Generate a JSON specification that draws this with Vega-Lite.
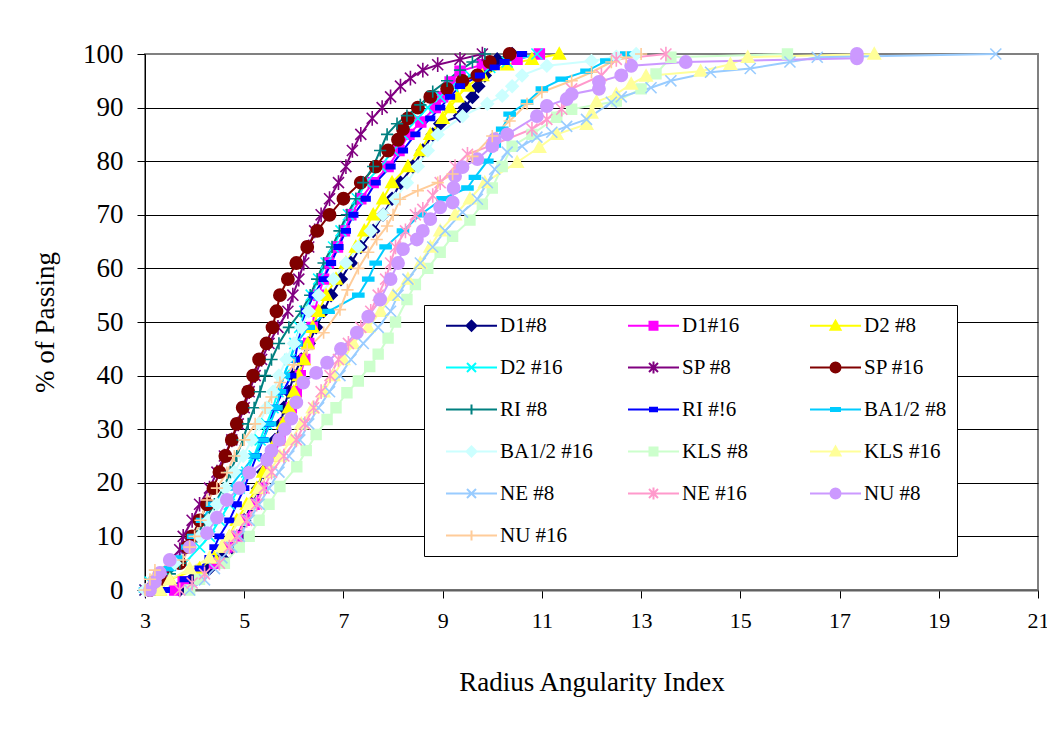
{
"$schema": "https://vega.github.io/schema/vega-lite/v6.json",
"width": 893, "height": 536,
"autosize": "none",
"padding": {"left": 145, "top": 54, "right": 9, "bottom": 152},
"background": "white",
"config": {"view": {"stroke": "#808080", "strokeWidth": 2}, "font": "Liberation Serif"},
"datasets": {"d": [
{"s":"D1#8","x":3.7,"y":0},{"s":"D1#8","x":3.95,"y":2},{"s":"D1#8","x":4.3,"y":4},{"s":"D1#8","x":4.55,"y":6},{"s":"D1#8","x":4.75,"y":8},{"s":"D1#8","x":4.9,"y":10},{"s":"D1#8","x":5.0,"y":13},{"s":"D1#8","x":5.15,"y":16},{"s":"D1#8","x":5.28,"y":19},{"s":"D1#8","x":5.38,"y":22},{"s":"D1#8","x":5.5,"y":25},{"s":"D1#8","x":5.62,"y":28},{"s":"D1#8","x":5.74,"y":31},{"s":"D1#8","x":5.8,"y":34},{"s":"D1#8","x":5.9,"y":37},{"s":"D1#8","x":6.0,"y":40},{"s":"D1#8","x":6.15,"y":43},{"s":"D1#8","x":6.3,"y":46},{"s":"D1#8","x":6.45,"y":49},{"s":"D1#8","x":6.6,"y":52},{"s":"D1#8","x":6.75,"y":55},{"s":"D1#8","x":6.95,"y":58},{"s":"D1#8","x":7.15,"y":61},{"s":"D1#8","x":7.35,"y":64},{"s":"D1#8","x":7.6,"y":67},{"s":"D1#8","x":7.8,"y":70},{"s":"D1#8","x":7.98,"y":73},{"s":"D1#8","x":8.15,"y":76},{"s":"D1#8","x":8.4,"y":79},{"s":"D1#8","x":8.6,"y":82},{"s":"D1#8","x":8.8,"y":85},{"s":"D1#8","x":8.95,"y":87},{"s":"D1#8","x":9.35,"y":88.5},{"s":"D1#8","x":9.45,"y":90},{"s":"D1#8","x":9.6,"y":92},{"s":"D1#8","x":9.72,"y":94},{"s":"D1#8","x":9.85,"y":96},{"s":"D1#8","x":9.98,"y":98},{"s":"D1#8","x":10.1,"y":99},{"s":"D1#8","x":10.4,"y":100},
{"s":"D1#16","x":3.6,"y":0},{"s":"D1#16","x":3.77,"y":1.5},{"s":"D1#16","x":4.1,"y":3},{"s":"D1#16","x":4.4,"y":5},{"s":"D1#16","x":4.65,"y":8},{"s":"D1#16","x":4.85,"y":10},{"s":"D1#16","x":5.0,"y":13},{"s":"D1#16","x":5.2,"y":16},{"s":"D1#16","x":5.35,"y":19},{"s":"D1#16","x":5.45,"y":22},{"s":"D1#16","x":5.6,"y":25},{"s":"D1#16","x":5.72,"y":28},{"s":"D1#16","x":5.82,"y":31},{"s":"D1#16","x":5.95,"y":34},{"s":"D1#16","x":6.05,"y":37},{"s":"D1#16","x":6.13,"y":40},{"s":"D1#16","x":6.22,"y":43},{"s":"D1#16","x":6.3,"y":46},{"s":"D1#16","x":6.37,"y":49},{"s":"D1#16","x":6.42,"y":52},{"s":"D1#16","x":6.5,"y":55},{"s":"D1#16","x":6.6,"y":58},{"s":"D1#16","x":6.7,"y":61},{"s":"D1#16","x":6.88,"y":64},{"s":"D1#16","x":7.02,"y":67},{"s":"D1#16","x":7.15,"y":70},{"s":"D1#16","x":7.35,"y":73},{"s":"D1#16","x":7.6,"y":76},{"s":"D1#16","x":7.9,"y":79},{"s":"D1#16","x":8.12,"y":82},{"s":"D1#16","x":8.32,"y":85},{"s":"D1#16","x":8.56,"y":87.3},{"s":"D1#16","x":8.85,"y":90},{"s":"D1#16","x":9.0,"y":92},{"s":"D1#16","x":9.15,"y":94.8},{"s":"D1#16","x":9.35,"y":96.8},{"s":"D1#16","x":9.8,"y":98},{"s":"D1#16","x":10.5,"y":99},{"s":"D1#16","x":10.95,"y":100},
{"s":"D2 #8","x":3.3,"y":0},{"s":"D2 #8","x":3.5,"y":2},{"s":"D2 #8","x":4.1,"y":4},{"s":"D2 #8","x":4.4,"y":6},{"s":"D2 #8","x":4.55,"y":8},{"s":"D2 #8","x":4.7,"y":10},{"s":"D2 #8","x":4.85,"y":13},{"s":"D2 #8","x":5.05,"y":16},{"s":"D2 #8","x":5.25,"y":19},{"s":"D2 #8","x":5.38,"y":22},{"s":"D2 #8","x":5.52,"y":25},{"s":"D2 #8","x":5.65,"y":28},{"s":"D2 #8","x":5.78,"y":31},{"s":"D2 #8","x":5.9,"y":34},{"s":"D2 #8","x":6.0,"y":37},{"s":"D2 #8","x":6.1,"y":40},{"s":"D2 #8","x":6.2,"y":43},{"s":"D2 #8","x":6.28,"y":46},{"s":"D2 #8","x":6.38,"y":49},{"s":"D2 #8","x":6.5,"y":52},{"s":"D2 #8","x":6.65,"y":55},{"s":"D2 #8","x":6.85,"y":58},{"s":"D2 #8","x":7.05,"y":61},{"s":"D2 #8","x":7.25,"y":64},{"s":"D2 #8","x":7.42,"y":67},{"s":"D2 #8","x":7.6,"y":70},{"s":"D2 #8","x":7.8,"y":73},{"s":"D2 #8","x":7.98,"y":76},{"s":"D2 #8","x":8.3,"y":79},{"s":"D2 #8","x":8.55,"y":82},{"s":"D2 #8","x":8.75,"y":85},{"s":"D2 #8","x":9.0,"y":88},{"s":"D2 #8","x":9.15,"y":90},{"s":"D2 #8","x":9.3,"y":92},{"s":"D2 #8","x":9.5,"y":94},{"s":"D2 #8","x":9.8,"y":96},{"s":"D2 #8","x":10.3,"y":98},{"s":"D2 #8","x":10.8,"y":99},{"s":"D2 #8","x":11.35,"y":100},
{"s":"D2 #16","x":3.0,"y":0},{"s":"D2 #16","x":3.1,"y":1.5},{"s":"D2 #16","x":3.3,"y":3},{"s":"D2 #16","x":3.8,"y":5},{"s":"D2 #16","x":4.1,"y":8},{"s":"D2 #16","x":4.3,"y":10},{"s":"D2 #16","x":4.5,"y":13},{"s":"D2 #16","x":4.7,"y":16},{"s":"D2 #16","x":4.9,"y":19},{"s":"D2 #16","x":5.05,"y":22},{"s":"D2 #16","x":5.2,"y":25},{"s":"D2 #16","x":5.32,"y":28},{"s":"D2 #16","x":5.45,"y":31},{"s":"D2 #16","x":5.58,"y":34},{"s":"D2 #16","x":5.68,"y":37},{"s":"D2 #16","x":5.8,"y":40},{"s":"D2 #16","x":5.92,"y":43},{"s":"D2 #16","x":6.02,"y":46},{"s":"D2 #16","x":6.12,"y":49},{"s":"D2 #16","x":6.22,"y":52},{"s":"D2 #16","x":6.35,"y":55},{"s":"D2 #16","x":6.5,"y":58},{"s":"D2 #16","x":6.65,"y":61},{"s":"D2 #16","x":6.8,"y":64},{"s":"D2 #16","x":6.95,"y":67},{"s":"D2 #16","x":7.1,"y":70},{"s":"D2 #16","x":7.28,"y":73},{"s":"D2 #16","x":7.45,"y":76},{"s":"D2 #16","x":7.75,"y":79},{"s":"D2 #16","x":8.0,"y":82},{"s":"D2 #16","x":8.2,"y":85},{"s":"D2 #16","x":8.5,"y":88},{"s":"D2 #16","x":8.7,"y":90},{"s":"D2 #16","x":8.95,"y":92},{"s":"D2 #16","x":9.2,"y":94},{"s":"D2 #16","x":9.55,"y":96},{"s":"D2 #16","x":9.95,"y":97.5},{"s":"D2 #16","x":10.3,"y":98.5},{"s":"D2 #16","x":10.9,"y":100},
{"s":"SP #8","x":3.0,"y":0},{"s":"SP #8","x":3.2,"y":1.5},{"s":"SP #8","x":3.4,"y":3},{"s":"SP #8","x":3.5,"y":5},{"s":"SP #8","x":3.7,"y":7.5},{"s":"SP #8","x":3.77,"y":10},{"s":"SP #8","x":3.95,"y":13},{"s":"SP #8","x":4.1,"y":16},{"s":"SP #8","x":4.3,"y":19},{"s":"SP #8","x":4.45,"y":22},{"s":"SP #8","x":4.6,"y":25},{"s":"SP #8","x":4.75,"y":28},{"s":"SP #8","x":4.88,"y":31},{"s":"SP #8","x":5.0,"y":34},{"s":"SP #8","x":5.1,"y":37},{"s":"SP #8","x":5.22,"y":40},{"s":"SP #8","x":5.35,"y":43},{"s":"SP #8","x":5.5,"y":46},{"s":"SP #8","x":5.68,"y":49},{"s":"SP #8","x":5.88,"y":52},{"s":"SP #8","x":5.98,"y":55},{"s":"SP #8","x":6.1,"y":58},{"s":"SP #8","x":6.2,"y":61},{"s":"SP #8","x":6.3,"y":64},{"s":"SP #8","x":6.42,"y":67},{"s":"SP #8","x":6.55,"y":70},{"s":"SP #8","x":6.72,"y":73},{"s":"SP #8","x":6.9,"y":76},{"s":"SP #8","x":7.05,"y":79},{"s":"SP #8","x":7.18,"y":82},{"s":"SP #8","x":7.35,"y":85},{"s":"SP #8","x":7.58,"y":88},{"s":"SP #8","x":7.78,"y":90},{"s":"SP #8","x":7.95,"y":92},{"s":"SP #8","x":8.15,"y":94},{"s":"SP #8","x":8.35,"y":95.5},{"s":"SP #8","x":8.6,"y":97},{"s":"SP #8","x":8.9,"y":98},{"s":"SP #8","x":9.35,"y":99},{"s":"SP #8","x":9.8,"y":100},
{"s":"SP #16","x":3.1,"y":0},{"s":"SP #16","x":3.3,"y":2},{"s":"SP #16","x":3.7,"y":5},{"s":"SP #16","x":3.85,"y":8},{"s":"SP #16","x":3.95,"y":10},{"s":"SP #16","x":4.1,"y":13},{"s":"SP #16","x":4.25,"y":16},{"s":"SP #16","x":4.38,"y":19},{"s":"SP #16","x":4.5,"y":22},{"s":"SP #16","x":4.62,"y":25},{"s":"SP #16","x":4.75,"y":28},{"s":"SP #16","x":4.85,"y":31},{"s":"SP #16","x":4.97,"y":34},{"s":"SP #16","x":5.08,"y":37},{"s":"SP #16","x":5.18,"y":40},{"s":"SP #16","x":5.3,"y":43},{"s":"SP #16","x":5.45,"y":46},{"s":"SP #16","x":5.57,"y":49},{"s":"SP #16","x":5.65,"y":52},{"s":"SP #16","x":5.72,"y":55},{"s":"SP #16","x":5.88,"y":58},{"s":"SP #16","x":6.05,"y":61},{"s":"SP #16","x":6.27,"y":64},{"s":"SP #16","x":6.47,"y":67},{"s":"SP #16","x":6.72,"y":70},{"s":"SP #16","x":7.0,"y":73},{"s":"SP #16","x":7.35,"y":76},{"s":"SP #16","x":7.65,"y":79},{"s":"SP #16","x":7.9,"y":82},{"s":"SP #16","x":8.1,"y":84},{"s":"SP #16","x":8.2,"y":86},{"s":"SP #16","x":8.3,"y":88},{"s":"SP #16","x":8.5,"y":90},{"s":"SP #16","x":8.75,"y":92},{"s":"SP #16","x":9.09,"y":93.5},{"s":"SP #16","x":9.4,"y":95},{"s":"SP #16","x":9.7,"y":96},{"s":"SP #16","x":9.95,"y":98.5},{"s":"SP #16","x":10.35,"y":100},
{"s":"RI #8","x":3.2,"y":0},{"s":"RI #8","x":3.5,"y":3},{"s":"RI #8","x":3.7,"y":5},{"s":"RI #8","x":3.9,"y":8},{"s":"RI #8","x":4.05,"y":10},{"s":"RI #8","x":4.2,"y":13},{"s":"RI #8","x":4.4,"y":16},{"s":"RI #8","x":4.58,"y":19},{"s":"RI #8","x":4.72,"y":22},{"s":"RI #8","x":4.85,"y":25},{"s":"RI #8","x":4.97,"y":28},{"s":"RI #8","x":5.08,"y":31},{"s":"RI #8","x":5.2,"y":34},{"s":"RI #8","x":5.32,"y":37},{"s":"RI #8","x":5.42,"y":40},{"s":"RI #8","x":5.55,"y":43},{"s":"RI #8","x":5.7,"y":46},{"s":"RI #8","x":5.9,"y":49},{"s":"RI #8","x":6.15,"y":52},{"s":"RI #8","x":6.33,"y":55},{"s":"RI #8","x":6.47,"y":58},{"s":"RI #8","x":6.6,"y":61},{"s":"RI #8","x":6.77,"y":64},{"s":"RI #8","x":6.92,"y":67},{"s":"RI #8","x":7.07,"y":70},{"s":"RI #8","x":7.25,"y":73},{"s":"RI #8","x":7.4,"y":76},{"s":"RI #8","x":7.6,"y":79},{"s":"RI #8","x":7.74,"y":82},{"s":"RI #8","x":7.88,"y":85},{"s":"RI #8","x":8.08,"y":87},{"s":"RI #8","x":8.28,"y":88.5},{"s":"RI #8","x":8.55,"y":90.5},{"s":"RI #8","x":8.8,"y":93},{"s":"RI #8","x":9.09,"y":95},{"s":"RI #8","x":9.35,"y":97},{"s":"RI #8","x":9.6,"y":98.5},{"s":"RI #8","x":9.85,"y":100},
{"s":"RI #!6","x":3.4,"y":0},{"s":"RI #!6","x":3.8,"y":2},{"s":"RI #!6","x":4.1,"y":4},{"s":"RI #!6","x":4.3,"y":6},{"s":"RI #!6","x":4.4,"y":8},{"s":"RI #!6","x":4.5,"y":10},{"s":"RI #!6","x":4.7,"y":13},{"s":"RI #!6","x":4.85,"y":16},{"s":"RI #!6","x":5.0,"y":19},{"s":"RI #!6","x":5.12,"y":22},{"s":"RI #!6","x":5.25,"y":25},{"s":"RI #!6","x":5.38,"y":28},{"s":"RI #!6","x":5.5,"y":31},{"s":"RI #!6","x":5.62,"y":34},{"s":"RI #!6","x":5.78,"y":37},{"s":"RI #!6","x":5.95,"y":40},{"s":"RI #!6","x":6.02,"y":43},{"s":"RI #!6","x":6.08,"y":46},{"s":"RI #!6","x":6.15,"y":49},{"s":"RI #!6","x":6.25,"y":52},{"s":"RI #!6","x":6.4,"y":55},{"s":"RI #!6","x":6.6,"y":58},{"s":"RI #!6","x":6.75,"y":61},{"s":"RI #!6","x":6.9,"y":64},{"s":"RI #!6","x":7.05,"y":67},{"s":"RI #!6","x":7.2,"y":70},{"s":"RI #!6","x":7.45,"y":73},{"s":"RI #!6","x":7.65,"y":76},{"s":"RI #!6","x":7.95,"y":79},{"s":"RI #!6","x":8.2,"y":82},{"s":"RI #!6","x":8.45,"y":85},{"s":"RI #!6","x":8.75,"y":88},{"s":"RI #!6","x":8.95,"y":90},{"s":"RI #!6","x":9.15,"y":92},{"s":"RI #!6","x":9.35,"y":94},{"s":"RI #!6","x":9.75,"y":96},{"s":"RI #!6","x":10.05,"y":97.5},{"s":"RI #!6","x":10.25,"y":98.5},{"s":"RI #!6","x":10.6,"y":100},
{"s":"BA1/2 #8","x":3.0,"y":0},{"s":"BA1/2 #8","x":3.2,"y":2},{"s":"BA1/2 #8","x":3.5,"y":4},{"s":"BA1/2 #8","x":3.65,"y":6},{"s":"BA1/2 #8","x":3.85,"y":8},{"s":"BA1/2 #8","x":3.97,"y":10},{"s":"BA1/2 #8","x":4.15,"y":13},{"s":"BA1/2 #8","x":4.35,"y":16},{"s":"BA1/2 #8","x":4.7,"y":19},{"s":"BA1/2 #8","x":4.95,"y":22},{"s":"BA1/2 #8","x":5.2,"y":25},{"s":"BA1/2 #8","x":5.38,"y":28},{"s":"BA1/2 #8","x":5.52,"y":31},{"s":"BA1/2 #8","x":5.65,"y":34},{"s":"BA1/2 #8","x":5.72,"y":37},{"s":"BA1/2 #8","x":5.8,"y":40},{"s":"BA1/2 #8","x":5.92,"y":43},{"s":"BA1/2 #8","x":6.05,"y":46},{"s":"BA1/2 #8","x":6.3,"y":49},{"s":"BA1/2 #8","x":6.7,"y":52},{"s":"BA1/2 #8","x":7.3,"y":55},{"s":"BA1/2 #8","x":7.5,"y":58},{"s":"BA1/2 #8","x":7.65,"y":61},{"s":"BA1/2 #8","x":7.85,"y":64},{"s":"BA1/2 #8","x":8.2,"y":67},{"s":"BA1/2 #8","x":8.55,"y":70},{"s":"BA1/2 #8","x":9.0,"y":73},{"s":"BA1/2 #8","x":9.5,"y":75},{"s":"BA1/2 #8","x":9.65,"y":77},{"s":"BA1/2 #8","x":9.9,"y":80},{"s":"BA1/2 #8","x":10.05,"y":83},{"s":"BA1/2 #8","x":10.2,"y":86},{"s":"BA1/2 #8","x":10.35,"y":88.8},{"s":"BA1/2 #8","x":10.7,"y":91},{"s":"BA1/2 #8","x":11.0,"y":93.5},{"s":"BA1/2 #8","x":11.4,"y":95.3},{"s":"BA1/2 #8","x":11.9,"y":96.8},{"s":"BA1/2 #8","x":12.3,"y":98.7},{"s":"BA1/2 #8","x":12.7,"y":100},
{"s":"BA1/2 #16","x":3.0,"y":0},{"s":"BA1/2 #16","x":3.3,"y":3},{"s":"BA1/2 #16","x":3.6,"y":5},{"s":"BA1/2 #16","x":3.9,"y":8},{"s":"BA1/2 #16","x":4.1,"y":10},{"s":"BA1/2 #16","x":4.28,"y":13},{"s":"BA1/2 #16","x":4.45,"y":16},{"s":"BA1/2 #16","x":4.62,"y":19},{"s":"BA1/2 #16","x":4.8,"y":22},{"s":"BA1/2 #16","x":4.98,"y":25},{"s":"BA1/2 #16","x":5.15,"y":28},{"s":"BA1/2 #16","x":5.3,"y":31},{"s":"BA1/2 #16","x":5.45,"y":34},{"s":"BA1/2 #16","x":5.58,"y":37},{"s":"BA1/2 #16","x":5.7,"y":40},{"s":"BA1/2 #16","x":5.85,"y":43},{"s":"BA1/2 #16","x":6.0,"y":46},{"s":"BA1/2 #16","x":6.15,"y":49},{"s":"BA1/2 #16","x":6.3,"y":52},{"s":"BA1/2 #16","x":6.5,"y":55},{"s":"BA1/2 #16","x":6.8,"y":58},{"s":"BA1/2 #16","x":7.05,"y":61},{"s":"BA1/2 #16","x":7.3,"y":64},{"s":"BA1/2 #16","x":7.55,"y":67},{"s":"BA1/2 #16","x":7.8,"y":70},{"s":"BA1/2 #16","x":8.05,"y":73},{"s":"BA1/2 #16","x":8.28,"y":76},{"s":"BA1/2 #16","x":8.5,"y":79},{"s":"BA1/2 #16","x":8.7,"y":82},{"s":"BA1/2 #16","x":8.9,"y":85},{"s":"BA1/2 #16","x":9.4,"y":88.4},{"s":"BA1/2 #16","x":9.9,"y":90.7},{"s":"BA1/2 #16","x":10.2,"y":92.2},{"s":"BA1/2 #16","x":10.4,"y":94},{"s":"BA1/2 #16","x":10.6,"y":96},{"s":"BA1/2 #16","x":11.1,"y":97.8},{"s":"BA1/2 #16","x":12.0,"y":98.7},{"s":"BA1/2 #16","x":12.5,"y":99.5},{"s":"BA1/2 #16","x":12.9,"y":100},
{"s":"KLS #8","x":3.9,"y":0},{"s":"KLS #8","x":4.1,"y":2},{"s":"KLS #8","x":4.6,"y":5},{"s":"KLS #8","x":4.9,"y":8},{"s":"KLS #8","x":5.1,"y":10},{"s":"KLS #8","x":5.3,"y":13},{"s":"KLS #8","x":5.5,"y":16},{"s":"KLS #8","x":5.72,"y":19.3},{"s":"KLS #8","x":6.06,"y":23},{"s":"KLS #8","x":6.25,"y":26},{"s":"KLS #8","x":6.45,"y":29},{"s":"KLS #8","x":6.67,"y":31.8},{"s":"KLS #8","x":6.85,"y":34},{"s":"KLS #8","x":7.07,"y":36.8},{"s":"KLS #8","x":7.3,"y":39},{"s":"KLS #8","x":7.53,"y":41.7},{"s":"KLS #8","x":7.7,"y":44},{"s":"KLS #8","x":7.9,"y":47},{"s":"KLS #8","x":8.05,"y":50},{"s":"KLS #8","x":8.28,"y":54.2},{"s":"KLS #8","x":8.45,"y":57},{"s":"KLS #8","x":8.7,"y":60},{"s":"KLS #8","x":8.95,"y":63},{"s":"KLS #8","x":9.2,"y":66},{"s":"KLS #8","x":9.55,"y":69},{"s":"KLS #8","x":9.8,"y":72},{"s":"KLS #8","x":10.0,"y":75},{"s":"KLS #8","x":10.2,"y":79},{"s":"KLS #8","x":10.4,"y":82.8},{"s":"KLS #8","x":10.8,"y":85},{"s":"KLS #8","x":11.3,"y":88.2},{"s":"KLS #8","x":11.6,"y":89.7},{"s":"KLS #8","x":12.5,"y":91.2},{"s":"KLS #8","x":13.0,"y":93.5},{"s":"KLS #8","x":13.3,"y":96.3},{"s":"KLS #8","x":13.6,"y":99.4},{"s":"KLS #8","x":15.95,"y":100},
{"s":"KLS #16","x":3.3,"y":0},{"s":"KLS #16","x":3.5,"y":1.9},{"s":"KLS #16","x":3.9,"y":4},{"s":"KLS #16","x":4.3,"y":6},{"s":"KLS #16","x":4.55,"y":8},{"s":"KLS #16","x":4.7,"y":10},{"s":"KLS #16","x":4.9,"y":13},{"s":"KLS #16","x":5.1,"y":16},{"s":"KLS #16","x":5.3,"y":19},{"s":"KLS #16","x":5.5,"y":22},{"s":"KLS #16","x":5.72,"y":25},{"s":"KLS #16","x":5.95,"y":28},{"s":"KLS #16","x":6.15,"y":31},{"s":"KLS #16","x":6.38,"y":34},{"s":"KLS #16","x":6.6,"y":37},{"s":"KLS #16","x":6.8,"y":40},{"s":"KLS #16","x":7.0,"y":43},{"s":"KLS #16","x":7.2,"y":46},{"s":"KLS #16","x":7.5,"y":49},{"s":"KLS #16","x":7.75,"y":52},{"s":"KLS #16","x":8.0,"y":55},{"s":"KLS #16","x":8.3,"y":58},{"s":"KLS #16","x":8.55,"y":61},{"s":"KLS #16","x":8.75,"y":64},{"s":"KLS #16","x":8.95,"y":67},{"s":"KLS #16","x":9.25,"y":70},{"s":"KLS #16","x":9.55,"y":73},{"s":"KLS #16","x":9.85,"y":76},{"s":"KLS #16","x":10.5,"y":79.8},{"s":"KLS #16","x":10.95,"y":82.6},{"s":"KLS #16","x":11.3,"y":85},{"s":"KLS #16","x":11.9,"y":86.9},{"s":"KLS #16","x":12.0,"y":89},{"s":"KLS #16","x":12.1,"y":91.1},{"s":"KLS #16","x":12.5,"y":92.5},{"s":"KLS #16","x":12.8,"y":94.4},{"s":"KLS #16","x":13.1,"y":95.9},{"s":"KLS #16","x":14.2,"y":96.8},{"s":"KLS #16","x":14.8,"y":98.1},{"s":"KLS #16","x":15.15,"y":99.4},{"s":"KLS #16","x":17.7,"y":100},
{"s":"NE #8","x":3.9,"y":0},{"s":"NE #8","x":4.2,"y":1.9},{"s":"NE #8","x":4.4,"y":4},{"s":"NE #8","x":4.55,"y":6},{"s":"NE #8","x":4.75,"y":8},{"s":"NE #8","x":4.9,"y":10},{"s":"NE #8","x":5.1,"y":13},{"s":"NE #8","x":5.3,"y":16},{"s":"NE #8","x":5.5,"y":19},{"s":"NE #8","x":5.7,"y":22},{"s":"NE #8","x":5.9,"y":25},{"s":"NE #8","x":6.12,"y":28},{"s":"NE #8","x":6.3,"y":31},{"s":"NE #8","x":6.5,"y":34},{"s":"NE #8","x":6.72,"y":37},{"s":"NE #8","x":6.93,"y":40},{"s":"NE #8","x":7.15,"y":43},{"s":"NE #8","x":7.4,"y":46},{"s":"NE #8","x":7.7,"y":49},{"s":"NE #8","x":7.95,"y":52},{"s":"NE #8","x":8.1,"y":55},{"s":"NE #8","x":8.3,"y":58},{"s":"NE #8","x":8.55,"y":61},{"s":"NE #8","x":8.8,"y":64},{"s":"NE #8","x":9.05,"y":67},{"s":"NE #8","x":9.4,"y":70.5},{"s":"NE #8","x":9.7,"y":72.9},{"s":"NE #8","x":9.9,"y":76},{"s":"NE #8","x":10.05,"y":78.5},{"s":"NE #8","x":10.3,"y":81.7},{"s":"NE #8","x":10.6,"y":82.8},{"s":"NE #8","x":10.9,"y":84.5},{"s":"NE #8","x":11.2,"y":85.4},{"s":"NE #8","x":11.5,"y":86.5},{"s":"NE #8","x":11.9,"y":87.8},{"s":"NE #8","x":12.4,"y":91},{"s":"NE #8","x":12.6,"y":92},{"s":"NE #8","x":13.2,"y":93.7},{"s":"NE #8","x":13.6,"y":95},{"s":"NE #8","x":14.4,"y":96.6},{"s":"NE #8","x":15.2,"y":97.3},{"s":"NE #8","x":16.0,"y":98.5},{"s":"NE #8","x":16.55,"y":99.4},{"s":"NE #8","x":20.15,"y":100},
{"s":"NE #16","x":3.7,"y":0},{"s":"NE #16","x":3.95,"y":1.3},{"s":"NE #16","x":4.2,"y":3},{"s":"NE #16","x":4.5,"y":5},{"s":"NE #16","x":4.7,"y":8},{"s":"NE #16","x":4.85,"y":10},{"s":"NE #16","x":5.05,"y":13},{"s":"NE #16","x":5.25,"y":16},{"s":"NE #16","x":5.4,"y":19},{"s":"NE #16","x":5.55,"y":22},{"s":"NE #16","x":5.8,"y":25},{"s":"NE #16","x":6.05,"y":28},{"s":"NE #16","x":6.22,"y":31},{"s":"NE #16","x":6.4,"y":34},{"s":"NE #16","x":6.55,"y":37},{"s":"NE #16","x":6.73,"y":40},{"s":"NE #16","x":6.9,"y":43},{"s":"NE #16","x":7.1,"y":46},{"s":"NE #16","x":7.35,"y":49},{"s":"NE #16","x":7.55,"y":52},{"s":"NE #16","x":7.7,"y":55},{"s":"NE #16","x":7.85,"y":58},{"s":"NE #16","x":7.95,"y":61},{"s":"NE #16","x":8.05,"y":64},{"s":"NE #16","x":8.25,"y":67},{"s":"NE #16","x":8.45,"y":70},{"s":"NE #16","x":8.6,"y":71},{"s":"NE #16","x":8.8,"y":73.6},{"s":"NE #16","x":8.95,"y":76},{"s":"NE #16","x":9.25,"y":79},{"s":"NE #16","x":9.5,"y":81.3},{"s":"NE #16","x":10.0,"y":83},{"s":"NE #16","x":10.8,"y":86},{"s":"NE #16","x":11.1,"y":87.8},{"s":"NE #16","x":11.4,"y":89.7},{"s":"NE #16","x":11.6,"y":93.5},{"s":"NE #16","x":12.2,"y":96},{"s":"NE #16","x":12.5,"y":99},{"s":"NE #16","x":13.5,"y":100},
{"s":"NU #8","x":3.1,"y":0},{"s":"NU #8","x":3.2,"y":1.5},{"s":"NU #8","x":3.3,"y":3.2},{"s":"NU #8","x":3.5,"y":5.6},{"s":"NU #8","x":3.9,"y":8},{"s":"NU #8","x":4.25,"y":10.6},{"s":"NU #8","x":4.45,"y":13.5},{"s":"NU #8","x":4.65,"y":16.8},{"s":"NU #8","x":4.9,"y":19},{"s":"NU #8","x":5.1,"y":21.9},{"s":"NU #8","x":5.46,"y":24.3},{"s":"NU #8","x":5.55,"y":26},{"s":"NU #8","x":5.7,"y":28},{"s":"NU #8","x":5.82,"y":30},{"s":"NU #8","x":5.95,"y":32},{"s":"NU #8","x":6.05,"y":35},{"s":"NU #8","x":6.19,"y":38.7},{"s":"NU #8","x":6.45,"y":40.5},{"s":"NU #8","x":6.67,"y":42.4},{"s":"NU #8","x":6.95,"y":45},{"s":"NU #8","x":7.27,"y":48},{"s":"NU #8","x":7.5,"y":51},{"s":"NU #8","x":7.74,"y":54.2},{"s":"NU #8","x":7.95,"y":58},{"s":"NU #8","x":8.1,"y":61},{"s":"NU #8","x":8.2,"y":63.6},{"s":"NU #8","x":8.48,"y":65.4},{"s":"NU #8","x":8.6,"y":67},{"s":"NU #8","x":8.75,"y":69.2},{"s":"NU #8","x":8.95,"y":71.4},{"s":"NU #8","x":9.2,"y":72.3},{"s":"NU #8","x":9.22,"y":75},{"s":"NU #8","x":9.25,"y":77.2},{"s":"NU #8","x":9.4,"y":78.9},{"s":"NU #8","x":9.7,"y":80.4},{"s":"NU #8","x":10.0,"y":82.8},{"s":"NU #8","x":10.05,"y":84.1},{"s":"NU #8","x":10.3,"y":85},{"s":"NU #8","x":10.9,"y":88.4},{"s":"NU #8","x":11.1,"y":90.3},{"s":"NU #8","x":11.5,"y":91.6},{"s":"NU #8","x":11.6,"y":92.5},{"s":"NU #8","x":12.15,"y":93.5},{"s":"NU #8","x":12.15,"y":94.8},{"s":"NU #8","x":12.6,"y":96},{"s":"NU #8","x":12.8,"y":97.8},{"s":"NU #8","x":13.9,"y":98.5},{"s":"NU #8","x":17.35,"y":99.2},{"s":"NU #8","x":17.35,"y":100},
{"s":"NU #16","x":3.0,"y":0},{"s":"NU #16","x":3.1,"y":2},{"s":"NU #16","x":3.2,"y":3.7},{"s":"NU #16","x":3.77,"y":5.6},{"s":"NU #16","x":3.9,"y":8},{"s":"NU #16","x":4.0,"y":10},{"s":"NU #16","x":4.12,"y":13},{"s":"NU #16","x":4.25,"y":16.8},{"s":"NU #16","x":4.45,"y":19},{"s":"NU #16","x":4.65,"y":21.9},{"s":"NU #16","x":4.8,"y":25},{"s":"NU #16","x":5.0,"y":28},{"s":"NU #16","x":5.22,"y":31},{"s":"NU #16","x":5.42,"y":34},{"s":"NU #16","x":5.55,"y":36},{"s":"NU #16","x":5.72,"y":38.7},{"s":"NU #16","x":6.0,"y":42},{"s":"NU #16","x":6.27,"y":44.9},{"s":"NU #16","x":6.6,"y":48},{"s":"NU #16","x":6.93,"y":52.3},{"s":"NU #16","x":7.08,"y":56},{"s":"NU #16","x":7.3,"y":60},{"s":"NU #16","x":7.5,"y":63},{"s":"NU #16","x":7.67,"y":65.4},{"s":"NU #16","x":7.88,"y":67.9},{"s":"NU #16","x":8.0,"y":70},{"s":"NU #16","x":8.14,"y":72.9},{"s":"NU #16","x":8.5,"y":74.5},{"s":"NU #16","x":8.9,"y":76},{"s":"NU #16","x":9.2,"y":77.6},{"s":"NU #16","x":9.6,"y":80.9},{"s":"NU #16","x":10.0,"y":84.7},{"s":"NU #16","x":10.35,"y":87.5},{"s":"NU #16","x":10.7,"y":90.7},{"s":"NU #16","x":11.0,"y":92.9},{"s":"NU #16","x":11.6,"y":95},{"s":"NU #16","x":12.0,"y":96.6},{"s":"NU #16","x":12.4,"y":98.5},{"s":"NU #16","x":12.7,"y":99.4},{"s":"NU #16","x":13.0,"y":100}
]},
"data": {"name": "d"},
"encoding": {
  "x": {"field": "x", "type": "quantitative",
    "scale": {"domain": [3, 21], "nice": false, "zero": false},
    "axis": {"values": [3,5,7,9,11,13,15,17,19,21], "grid": false, "tickSize": 8, "tickColor": "black",
      "domainColor": "#606060", "domainWidth": 2, "labelFont": "Liberation Serif", "labelFontSize": 22,
      "labelColor": "black", "labelPadding": 12, "labelFlush": false,
      "title": "Radius  Angularity Index", "titleFont": "Liberation Serif", "titleFontSize": 27,
      "titleFontWeight": "normal", "titleColor": "black", "titleY": 100, "titleBaseline": "alphabetic"}},
  "y": {"field": "y", "type": "quantitative",
    "scale": {"domain": [0, 100], "nice": false},
    "axis": {"values": [0,10,20,30,40,50,60,70,80,90,100], "grid": true,
      "gridColor": {"condition": {"test": "datum.value == 100 || datum.value == 0", "value": "#808080"}, "value": "black"},
      "gridWidth": 1, "tickSize": 8, "tickColor": "black", "domainColor": "black", "domainWidth": 1,
      "labelFont": "Liberation Serif", "labelFontSize": 27, "labelColor": "black", "labelPadding": 14,
      "labelFlush": false,
      "title": "% of Passing", "titleFont": "Liberation Serif", "titleFontSize": 27, "titleFontWeight": "normal",
      "titleColor": "black", "titleX": -92, "titleY": 268, "titleAngle": 270, "titleBaseline": "alphabetic", "titleAlign": "center"}}
},
"layer": [
  {"mark": {"type": "line", "strokeWidth": 2},
   "encoding": {
     "color": {"field": "s", "type": "nominal", "legend": null,
       "scale": {"domain": ["D1#8","D1#16","D2 #8","D2 #16","SP #8","SP #16","RI #8","RI #!6","BA1/2 #8","BA1/2 #16","KLS #8","KLS #16","NE #8","NE #16","NU #8","NU #16"],
                 "range": ["#000080","#FF00FF","#FFFF00","#00FFFF","#800080","#800000","#008080","#0000FF","#00CCFF","#CCFFFF","#CCFFCC","#FFFF99","#99CCFF","#FF99CC","#CC99FF","#FFCC99"]}},
     "order": {"field": "y", "type": "quantitative"}}},
  {"mark": {"type": "point", "filled": true, "size": 150, "strokeWidth": 1.6, "opacity": 1},
   "encoding": {
     "fill": {"field": "s", "type": "nominal", "legend": null,
       "scale": {"domain": ["D1#8","D1#16","D2 #8","D2 #16","SP #8","SP #16","RI #8","RI #!6","BA1/2 #8","BA1/2 #16","KLS #8","KLS #16","NE #8","NE #16","NU #8","NU #16"],
                 "range": ["#000080","#FF00FF","#FFFF00","#00FFFF","#800080","#800000","#008080","#0000FF","#00CCFF","#CCFFFF","#CCFFCC","#FFFF99","#99CCFF","#FF99CC","#CC99FF","#FFCC99"]}},
     "stroke": {"field": "s", "type": "nominal", "legend": null,
       "scale": {"domain": ["D1#8","D1#16","D2 #8","D2 #16","SP #8","SP #16","RI #8","RI #!6","BA1/2 #8","BA1/2 #16","KLS #8","KLS #16","NE #8","NE #16","NU #8","NU #16"],
                 "range": ["#000080","#FF00FF","#FFFF00","#00FFFF","#800080","#800000","#008080","#0000FF","#00CCFF","#CCFFFF","#CCFFCC","#FFFF99","#99CCFF","#FF99CC","#CC99FF","#FFCC99"]}},
     "shape": {"field": "s", "type": "nominal", "legend": null,
       "scale": {"domain": ["D1#8","D1#16","D2 #8","D2 #16","SP #8","SP #16","RI #8","RI #!6","BA1/2 #8","BA1/2 #16","KLS #8","KLS #16","NE #8","NE #16","NU #8","NU #16"],
                 "range": ["M0,-1L1,0L0,1L-1,0Z","M-0.8,-0.8L0.8,-0.8L0.8,0.8L-0.8,0.8Z","M0,-1L1,0.8L-1,0.8Z","M-0.9,-0.9L0.9,0.9M-0.9,0.9L0.9,-0.9","M-0.9,-0.9L0.9,0.9M-0.9,0.9L0.9,-0.9M0,-1.2L0,1.2","M1,0A1,1 0 1 1 -1,0A1,1 0 1 1 1,0Z","M-1,0L1,0M0,-1L0,1","M-0.7,-0.35L0.7,-0.35L0.7,0.35L-0.7,0.35Z","M-0.9,-0.3L0.9,-0.3L0.9,0.3L-0.9,0.3Z","M0,-1L1,0L0,1L-1,0Z","M-0.8,-0.8L0.8,-0.8L0.8,0.8L-0.8,0.8Z","M0,-1L1,0.8L-1,0.8Z","M-0.9,-0.9L0.9,0.9M-0.9,0.9L0.9,-0.9","M-0.9,-0.9L0.9,0.9M-0.9,0.9L0.9,-0.9M0,-1.2L0,1.2","M1,0A1,1 0 1 1 -1,0A1,1 0 1 1 1,0Z","M-1,0L1,0M0,-1L0,1"]}}}},
  {"mark": {"type": "point", "filled": true, "opacity": 0, "size": 1},
   "encoding": {
     "fill": {"field": "s", "type": "nominal",
       "scale": {"domain": ["D1#8","D1#16","D2 #8","D2 #16","SP #8","SP #16","RI #8","RI #!6","BA1/2 #8","BA1/2 #16","KLS #8","KLS #16","NE #8","NE #16","NU #8","NU #16"],
                 "range": ["#000080","#FF00FF","#FFFF00","#00FFFF","#800080","#800000","#008080","#0000FF","#00CCFF","#CCFFFF","#CCFFCC","#FFFF99","#99CCFF","#FF99CC","#CC99FF","#FFCC99"]},
       "legend": {"title": null, "orient": "none", "legendX": 279, "legendY": 251, "columns": 3,
         "direction": "horizontal",
         "gridAlign": "all", "padding": 10, "strokeColor": "black", "fillColor": "white",
         "symbolSize": 100, "symbolOffset": 27, "symbolStrokeWidth": 2, "symbolOpacity": 1,
         "labelOffset": 18, "labelFont": "Liberation Serif", "labelFontSize": 21, "labelColor": "black",
         "labelLimit": 300, "labelBaseline": "middle", "rowPadding": 20, "columnPadding": 23}},
     "stroke": {"field": "s", "type": "nominal",
       "scale": {"domain": ["D1#8","D1#16","D2 #8","D2 #16","SP #8","SP #16","RI #8","RI #!6","BA1/2 #8","BA1/2 #16","KLS #8","KLS #16","NE #8","NE #16","NU #8","NU #16"],
                 "range": ["#000080","#FF00FF","#FFFF00","#00FFFF","#800080","#800000","#008080","#0000FF","#00CCFF","#CCFFFF","#CCFFCC","#FFFF99","#99CCFF","#FF99CC","#CC99FF","#FFCC99"]},
       "legend": {"title": null, "orient": "none", "legendX": 279, "legendY": 251, "columns": 3,
         "direction": "horizontal",
         "gridAlign": "all", "padding": 10, "strokeColor": "black", "fillColor": "white",
         "symbolSize": 100, "symbolOffset": 27, "symbolStrokeWidth": 2, "symbolOpacity": 1,
         "labelOffset": 18, "labelFont": "Liberation Serif", "labelFontSize": 21, "labelColor": "black",
         "labelLimit": 300, "labelBaseline": "middle", "rowPadding": 20, "columnPadding": 23}},
     "shape": {"field": "s", "type": "nominal",
       "scale": {"domain": ["D1#8","D1#16","D2 #8","D2 #16","SP #8","SP #16","RI #8","RI #!6","BA1/2 #8","BA1/2 #16","KLS #8","KLS #16","NE #8","NE #16","NU #8","NU #16"],
                 "range": ["M-5.1,0L5.1,0M0,-1L1,0L0,1L-1,0Z","M-5.1,0L5.1,0M-0.8,-0.8L0.8,-0.8L0.8,0.8L-0.8,0.8Z","M-5.1,0L5.1,0M0,-1L1,0.8L-1,0.8Z","M-5.1,0L5.1,0M-0.9,-0.9L0.9,0.9M-0.9,0.9L0.9,-0.9","M-5.1,0L5.1,0M-0.9,-0.9L0.9,0.9M-0.9,0.9L0.9,-0.9M0,-1.2L0,1.2","M-5.1,0L5.1,0M1,0A1,1 0 1 1 -1,0A1,1 0 1 1 1,0Z","M-5.1,0L5.1,0M-1,0L1,0M0,-1L0,1","M-5.1,0L5.1,0M-0.7,-0.35L0.7,-0.35L0.7,0.35L-0.7,0.35Z","M-5.1,0L5.1,0M-0.9,-0.3L0.9,-0.3L0.9,0.3L-0.9,0.3Z","M-5.1,0L5.1,0M0,-1L1,0L0,1L-1,0Z","M-5.1,0L5.1,0M-0.8,-0.8L0.8,-0.8L0.8,0.8L-0.8,0.8Z","M-5.1,0L5.1,0M0,-1L1,0.8L-1,0.8Z","M-5.1,0L5.1,0M-0.9,-0.9L0.9,0.9M-0.9,0.9L0.9,-0.9","M-5.1,0L5.1,0M-0.9,-0.9L0.9,0.9M-0.9,0.9L0.9,-0.9M0,-1.2L0,1.2","M-5.1,0L5.1,0M1,0A1,1 0 1 1 -1,0A1,1 0 1 1 1,0Z","M-5.1,0L5.1,0M-1,0L1,0M0,-1L0,1"]},
       "legend": {"title": null, "orient": "none", "legendX": 279, "legendY": 251, "columns": 3,
         "direction": "horizontal",
         "gridAlign": "all", "padding": 10, "strokeColor": "black", "fillColor": "white",
         "symbolSize": 100, "symbolOffset": 27, "symbolStrokeWidth": 2, "symbolOpacity": 1,
         "labelOffset": 18, "labelFont": "Liberation Serif", "labelFontSize": 21, "labelColor": "black",
         "labelLimit": 300, "labelBaseline": "middle", "rowPadding": 20, "columnPadding": 23}}}}
],
"resolve": {"scale": {"shape": "independent", "fill": "independent", "stroke": "independent"},
            "legend": {"shape": "independent", "fill": "independent", "stroke": "independent"}}
}
